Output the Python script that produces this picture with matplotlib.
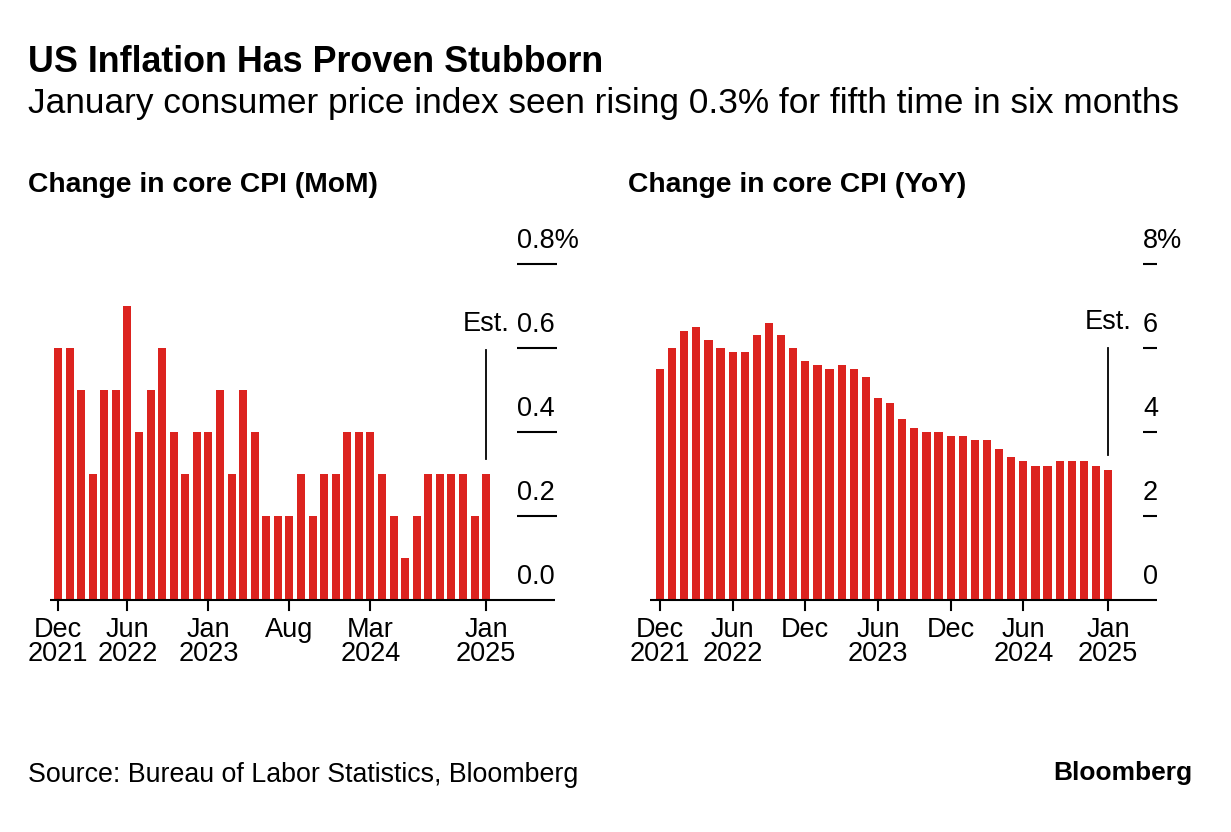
import matplotlib
matplotlib.use("Agg")
import matplotlib.pyplot as plt

plt.rcParams['font.family'] = ['Liberation Sans', 'DejaVu Sans']

# monthly data, Dec 2021 .. Jan 2025 (Jan 2025 = estimate)
mom = [0.6, 0.6, 0.5, 0.3, 0.5, 0.5, 0.7, 0.4, 0.5, 0.6, 0.4, 0.3,
       0.4, 0.4, 0.5, 0.3, 0.5, 0.4, 0.2, 0.2, 0.2, 0.3, 0.2, 0.3,
       0.3, 0.4, 0.4, 0.4, 0.3, 0.2, 0.1, 0.2, 0.3, 0.3, 0.3, 0.3,
       0.2, 0.3]
yoy = [5.5, 6.0, 6.4, 6.5, 6.2, 6.0, 5.9, 5.9, 6.3, 6.6, 6.3, 6.0,
       5.7, 5.6, 5.5, 5.6, 5.5, 5.3, 4.8, 4.7, 4.3, 4.1, 4.0, 4.0,
       3.9, 3.9, 3.8, 3.8, 3.6, 3.4, 3.3, 3.2, 3.2, 3.3, 3.3, 3.3,
       3.2, 3.1]

mom_ticks = [0, 6, 13, 20, 27, 37]
mom_tick_labels = ["Dec\n2021", "Jun\n2022", "Jan\n2023", "Aug", "Mar\n2024", "Jan\n2025"]
yoy_ticks = [0, 6, 12, 18, 24, 30, 37]
yoy_tick_labels = ["Dec\n2021", "Jun\n2022", "Dec", "Jun\n2023", "Dec", "Jun\n2024", "Jan\n2025"]

mom_yticks = [0.0, 0.2, 0.4, 0.6, 0.8]
mom_ylabels = ["0.0", "0.2", "0.4", "0.6", "0.8%"]
yoy_yticks = [0, 2, 4, 6, 8]
yoy_ylabels = ["0", "2", "4", "6", "8%"]

RED = '#dc231f'
W, H = 1231, 832
FS = 19.5

fig = plt.figure(figsize=(W / 100, H / 100), dpi=100)


def fx(x):
    return x / W


def fy(y):
    return 1 - y / H


def panel(left_px, right_px, xlim, ylim, vals, ticks, tlabels, yticks, ylabels,
          base_end, ytick_x0, ytick_x1, est_top):
    ax = fig.add_axes([fx(left_px), fy(600), fx(right_px - left_px), (600 - 230) / H])
    ax.set_xlim(*xlim)
    ax.set_ylim(0, ylim)
    ax.axis('off')
    n = len(vals)
    ax.bar(range(n), vals, width=0.68, color=RED, linewidth=0)
    # baseline
    ax.plot([xlim[0] + 0.85, base_end], [0, 0], color='black', lw=1.5,
            clip_on=False, solid_capstyle='butt')
    # y tick marks and labels
    px_per_unit = 370 / ylim
    for v, lab in zip(yticks, ylabels):
        if v > 0:
            ax.plot([ytick_x0, ytick_x1], [v, v], color='black', lw=1.5,
                    clip_on=False, solid_capstyle='butt')
        ax.text(ytick_x0, v + 23 / px_per_unit, lab, fontsize=FS,
                ha='left', va='center', clip_on=False)
    # x ticks
    for t, lab in zip(ticks, tlabels):
        ax.plot([t, t], [0, -10 / px_per_unit], color='black', lw=1.5, clip_on=False)
        ax.text(t, -17 / px_per_unit, lab, fontsize=FS, ha='center', va='top',
                linespacing=0.9, clip_on=False)
    # estimate marker
    last = n - 1
    ax.plot([last, last], [vals[last] + 0.04 * ylim, est_top], color='black',
            lw=1.3, clip_on=False)
    ax.text(last, est_top + 26 / px_per_unit, "Est.", fontsize=FS,
            ha='center', va='center', clip_on=False)
    return ax


panel(40, 600, (-1.556, 46.84), 0.881, mom, mom_ticks, mom_tick_labels,
      mom_yticks, mom_ylabels, 42.96, 39.67, 43.13, 0.595)
panel(640, 1200, (-1.65, 44.59), 8.81, yoy, yoy_ticks, yoy_tick_labels,
      yoy_yticks, yoy_ylabels, 41.04, 39.88, 41.04, 6.0)

fig.text(fx(28), fy(62), "US Inflation Has Proven Stubborn", fontsize=25.8,
         fontweight='bold', ha='left', va='center')
fig.text(fx(28), fy(104),
         "January consumer price index seen rising 0.3% for fifth time in six months",
         fontsize=25.4, ha='left', va='center')
fig.text(fx(28), fy(185), "Change in core CPI (MoM)", fontsize=20.3,
         fontweight='bold', ha='left', va='center')
fig.text(fx(628), fy(185), "Change in core CPI (YoY)", fontsize=20.3,
         fontweight='bold', ha='left', va='center')
fig.text(fx(28), fy(775), "Source: Bureau of Labor Statistics, Bloomberg",
         fontsize=19.3, ha='left', va='center')
fig.text(fx(1192), fy(773), "Bloomberg", fontsize=19, fontweight='bold',
         ha='right', va='center')

fig.savefig("out.png", dpi=100)
